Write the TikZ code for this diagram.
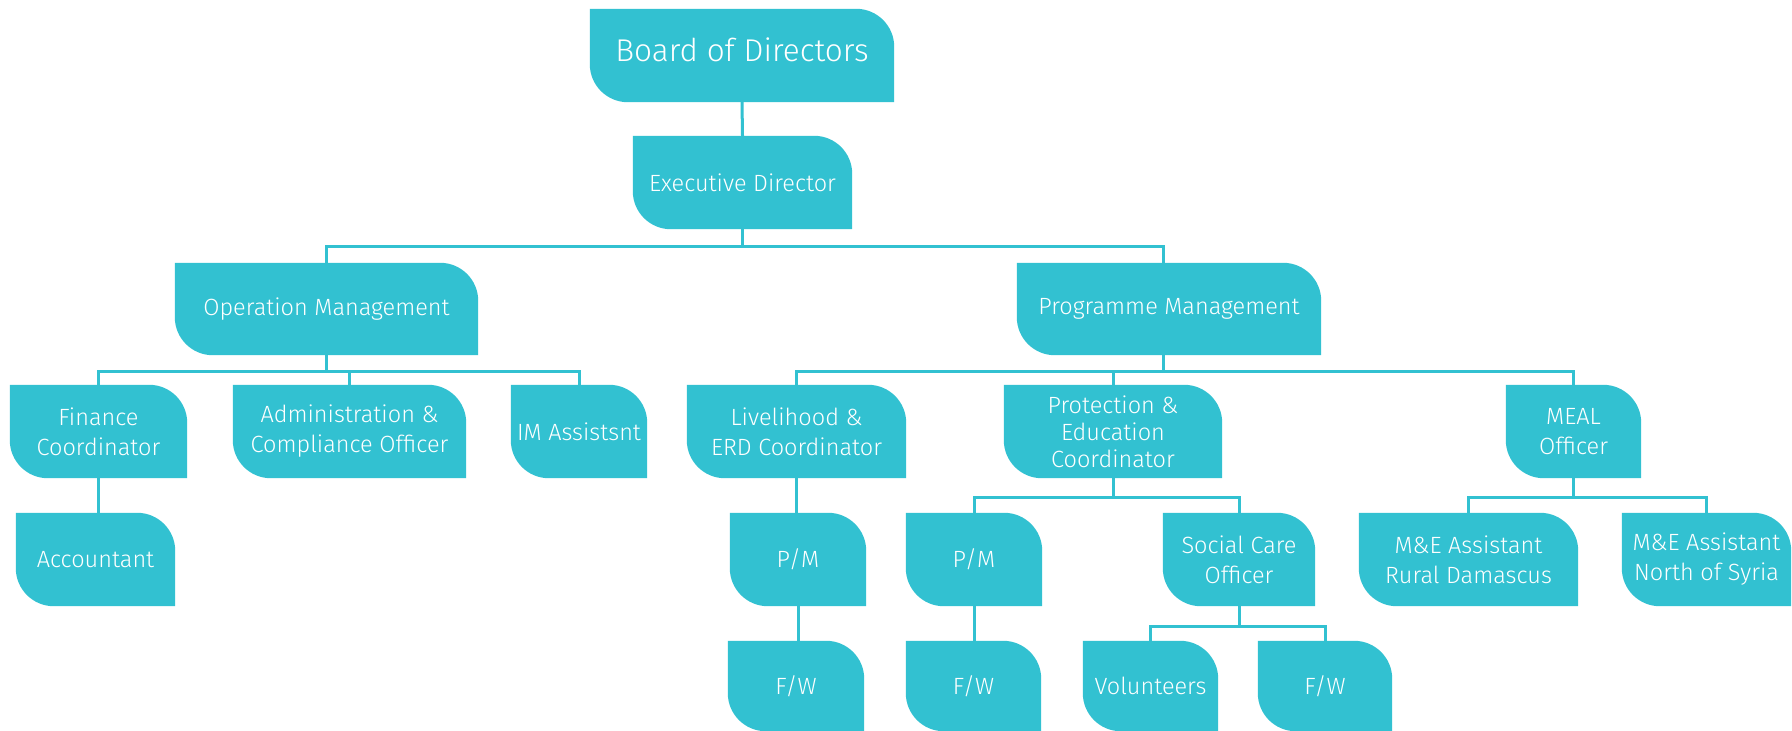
\documentclass[tikz,border=0pt]{standalone}
\usepackage{fontspec}
\setmainfont{Fira Sans Light}
\usetikzlibrary{backgrounds}
\definecolor{teal}{RGB}{50,193,209}
\tikzset{
  orgbox/.style={inner sep=0pt, text=white, align=center, font=\fontsize{23.5}{30}\selectfont},
  conn/.style={draw=teal, line width=3pt},
}
\newcommand{\boxshape}[1]{%
  \fill[teal] (#1.north west) -- ([xshift=-38pt]#1.north east) arc[start angle=90,end angle=0,radius=38pt]
    -- (#1.south east) -- ([xshift=38pt]#1.south west) arc[start angle=270,end angle=180,radius=38pt] -- cycle;}
\begin{document}
\begin{tikzpicture}[x=1pt,y=1pt]
\useasboundingbox (0,0) rectangle (1792,-731);
% row 0/1
\node[orgbox, minimum width=304pt, minimum height=93pt] (bod) at (742,-55.5) {};
\node[inner sep=0pt, text=white, font=\fontsize{31.5}{36}\selectfont] (bodt) at (742,-50) {Board of Directors};
\node[orgbox, minimum width=219pt, minimum height=93pt] (ed) at (742.5,-182.5) {Executive Director};
% row 2
\node[orgbox, minimum width=303pt, minimum height=92pt] (ops) at (326.5,-309) {Operation Management};
\node[orgbox, minimum width=304pt, minimum height=92pt] (prog) at (1169,-309) {Programme Management};
% row 3
\node[orgbox, minimum width=177pt, minimum height=93pt] (fin) at (98.5,-431.5) {Finance\\Coordinator};
\node[orgbox, minimum width=233pt, minimum height=93pt] (admin) at (349.5,-431.5) {Administration \&\\Compliance Officer};
\node[orgbox, minimum width=136pt, minimum height=93pt] (im) at (579,-431.5) {IM Assistsnt};
\node[orgbox, minimum width=219pt, minimum height=93pt] (live) at (796.5,-431.5) {Livelihood \&\\ERD Coordinator};
\node[orgbox, minimum width=218pt, minimum height=93pt, font=\fontsize{23.5}{27}\selectfont] (prot) at (1113,-431.5) {Protection \&\\Education\\Coordinator};
\node[orgbox, minimum width=135pt, minimum height=93pt] (meal) at (1573.5,-431.5) {MEAL\\Officer};
% row 4
\node[orgbox, minimum width=159pt, minimum height=93pt] (acc) at (95.5,-559.5) {Accountant};
\node[orgbox, minimum width=136pt, minimum height=93pt] (pma) at (798,-559.5) {P/M};
\node[orgbox, minimum width=136pt, minimum height=93pt] (pmb) at (974,-559.5) {P/M};
\node[orgbox, minimum width=152pt, minimum height=93pt] (soc) at (1239,-559.5) {Social Care\\Officer};
\node[orgbox, minimum width=219pt, minimum height=93pt] (rural) at (1468.5,-559.5) {M\&E Assistant\\Rural Damascus};
\node[orgbox, minimum width=169pt, minimum height=93pt] (north) at (1706.5,-559.5) {M\&E Assistant\\North of Syria};
% row 5
\node[orgbox, minimum width=136pt, minimum height=90pt] (fwa) at (796,-686) {F/W};
\node[orgbox, minimum width=135pt, minimum height=90pt] (fwb) at (973.5,-686) {F/W};
\node[orgbox, minimum width=135pt, minimum height=90pt] (vol) at (1150.5,-686) {Volunteers};
\node[orgbox, minimum width=134pt, minimum height=90pt] (fwc) at (1325,-686) {F/W};
\begin{scope}[on background layer]
  \fill[white] (0,0) rectangle (1792,-731);
  % connectors
  \draw[conn] (bod.south) -- (ed.north);
  \draw[conn] (ed.south) -- ++(0,-17) -| (ops.north);
  \draw[conn] (ed.south) -- ++(0,-17) -| ([xshift=-6pt]prog.north);
  \foreach \t in {fin,admin,im} \draw[conn] (ops.south) -- ++(0,-16) -| (\t.north);
  \draw[conn] ([xshift=-6pt]prog.south) -- ++(0,-16) -| (live.north);
  \foreach \t in {prot,meal} \draw[conn] ([xshift=-6pt]prog.south) -- ++(0,-16) -| (\t.north);
  \draw[conn] (fin.south) -- (fin.south |- acc.north);
  \draw[conn] (live.south) -- (live.south |- pma.north);
  \draw[conn] (pma.south) -- (pma.south |- fwa.north);
  \draw[conn] (pmb.south) -- (pmb.south |- fwb.north);
  \foreach \t in {pmb,soc} \draw[conn] (prot.south) -- ++(0,-19) -| (\t.north);
  \foreach \t in {rural,north} \draw[conn] (meal.south) -- ++(0,-19) -| (\t.north);
  \foreach \t in {vol,fwc} \draw[conn] (soc.south) -- ++(0,-20) -| (\t.north);
  % box shapes
  \foreach \n in {bod,ed,ops,prog,fin,admin,im,live,prot,meal,acc,pma,pmb,soc,rural,north,fwa,fwb,vol,fwc} {\boxshape{\n}}
\end{scope}
\end{tikzpicture}
\end{document}
